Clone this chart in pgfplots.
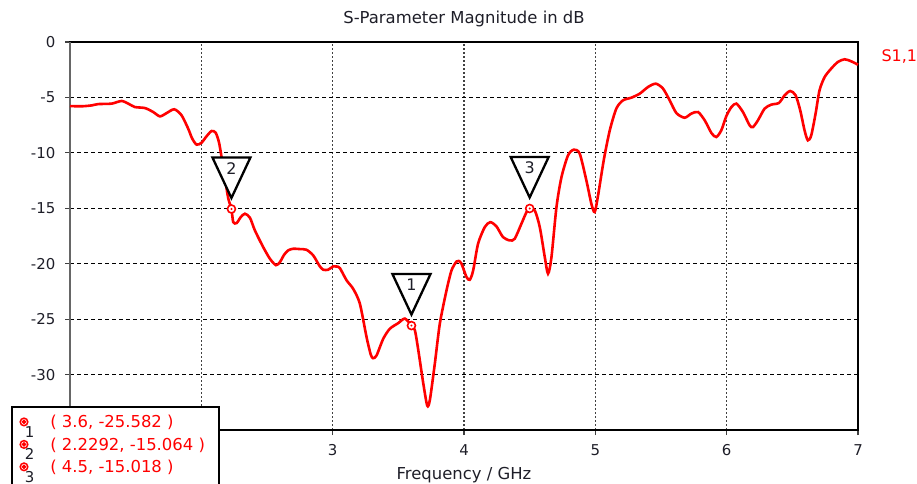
\documentclass[border=0pt]{standalone}
\usepackage{fontspec}
\setmainfont{DejaVu Sans}
\usepackage{pgfplots}
\usepackage{pgfplotstable}
\pgfplotsset{compat=1.18}

% ring marker with a centre dot
\pgfdeclareplotmark{ringdot}{%
  \pgfpathcircle{\pgfpointorigin}{4bp}%
  \pgfusepathqfillstroke
  \begin{pgfscope}%
    \pgfsetfillcolor{red}%
    \pgfpathcircle{\pgfpointorigin}{1.1bp}%
    \pgfusepathqfill
  \end{pgfscope}}

% downward flag triangle, tip just above the marked point
\pgfdeclareplotmark{flag}{%
  \pgfpathmoveto{\pgfpoint{0bp}{11bp}}%
  \pgfpathlineto{\pgfpoint{-19bp}{51.5bp}}%
  \pgfpathlineto{\pgfpoint{19bp}{51.5bp}}%
  \pgfpathclose
  \pgfusepathqfillstroke}

\pgfplotstableread{
f s11
1.000 -5.78
1.089 -5.80
1.165 -5.72
1.215 -5.60
1.317 -5.56
1.393 -5.32
1.450 -5.60
1.495 -5.87
1.571 -5.96
1.634 -6.32
1.685 -6.71
1.736 -6.41
1.794 -6.07
1.850 -6.62
1.900 -7.82
1.930 -8.70
1.964 -9.26
2.002 -9.08
2.040 -8.50
2.078 -8.03
2.109 -8.18
2.134 -9.03
2.154 -10.38
2.180 -12.30
2.205 -14.10
2.2292 -15.064
2.243 -16.25
2.269 -16.33
2.300 -15.80
2.332 -15.49
2.370 -15.85
2.408 -17.00
2.471 -18.50
2.522 -19.55
2.568 -20.13
2.598 -19.86
2.630 -19.20
2.661 -18.80
2.699 -18.65
2.750 -18.68
2.800 -18.74
2.852 -19.25
2.900 -20.20
2.928 -20.54
2.966 -20.54
3.004 -20.24
3.030 -20.25
3.055 -20.40
3.106 -21.50
3.156 -22.26
3.207 -23.60
3.258 -26.62
3.290 -28.20
3.308 -28.52
3.334 -28.28
3.385 -26.77
3.435 -25.87
3.499 -25.36
3.550 -24.95
3.600 -25.582
3.626 -26.00
3.652 -27.80
3.690 -30.80
3.720 -32.80
3.740 -32.30
3.778 -29.00
3.816 -25.40
3.867 -22.40
3.905 -20.60
3.943 -19.80
3.960 -19.75
3.981 -20.00
4.019 -21.20
4.044 -21.45
4.070 -20.60
4.107 -18.20
4.158 -16.70
4.200 -16.25
4.247 -16.63
4.297 -17.60
4.349 -17.90
4.386 -17.75
4.437 -16.40
4.476 -15.34
4.500 -15.018
4.539 -15.20
4.577 -16.70
4.615 -19.40
4.640 -20.90
4.666 -19.40
4.704 -14.90
4.742 -12.20
4.792 -10.23
4.836 -9.71
4.881 -10.07
4.932 -12.50
4.970 -14.60
4.995 -15.34
5.020 -13.90
5.065 -10.60
5.110 -7.97
5.160 -6.00
5.211 -5.26
5.275 -5.02
5.338 -4.66
5.401 -4.06
5.460 -3.76
5.515 -4.20
5.566 -5.26
5.617 -6.41
5.680 -6.83
5.731 -6.46
5.782 -6.32
5.833 -7.07
5.884 -8.21
5.921 -8.57
5.959 -7.97
5.997 -6.70
6.036 -5.87
6.074 -5.56
6.124 -6.32
6.175 -7.52
6.200 -7.67
6.238 -7.07
6.289 -6.01
6.340 -5.65
6.398 -5.50
6.441 -4.81
6.484 -4.42
6.525 -4.81
6.560 -6.16
6.593 -7.97
6.618 -8.87
6.644 -8.42
6.677 -6.46
6.707 -4.36
6.746 -3.16
6.796 -2.40
6.847 -1.80
6.898 -1.56
6.948 -1.74
7.000 -2.05
}\sparam

\pgfplotstableread{
f s11 id
3.6 -25.582 1
2.2292 -15.064 2
4.5 -15.018 3
}\markers

\definecolor{inkgray}{RGB}{30,30,40}

\begin{document}
\begin{tikzpicture}
\useasboundingbox (0,0) rectangle (917bp,484bp);
\begin{axis}[
  at={(70bp,54bp)}, anchor=south west,
  scale only axis, width=788bp, height=388bp,
  xmin=1, xmax=7, ymin=-35, ymax=0,
  xtick={1,2,3,4,5,6,7},
  xticklabels={,,3,4,5,6,7},
  ytick={-35,-30,-25,-20,-15,-10,-5,0},
  yticklabels={,-30,-25,-20,-15,-10,-5,0},
  xtick pos=bottom, ytick pos=left,
  tick align=outside, major tick length=5bp,
  tick style={black!75, line width=1.1bp},
  axis line style={black, line width=1.5bp},
  grid=major,
  x grid style={black!75, line width=1.4bp, dash pattern=on 2bp off 2bp},
  y grid style={black, line width=1bp, dash pattern=on 4bp off 3bp},
  ticklabel style={font=\fontsize{15}{18}\selectfont, text=inkgray},
  xticklabel style={anchor=base, yshift=-20.5bp},
  yticklabel style={anchor=east, inner sep=0pt, xshift=-9.5bp},
  title={S-Parameter Magnitude in dB},
  title style={at={(0.5,1)}, anchor=base, yshift=12.7bp,
    font=\fontsize{16.5}{20}\selectfont, text=inkgray},
  xlabel={Frequency / GHz},
  xlabel style={at={(axis description cs:0.5,0)}, anchor=base, yshift=-49bp,
    font=\fontsize{16.5}{19}\selectfont, text=inkgray},
  clip=false,
  legend cell align=left,
  legend style={at={(axis description cs:-0.0745,0.0611)}, anchor=north west,
    draw=black, line width=2bp, fill=white, text=red,
    font=\fontsize{16.5}{19}\selectfont,
    inner xsep=6.7bp, inner ysep=7.4bp, row sep=-0.8bp, column sep=21.3bp,
    nodes={inner sep=0pt, text height=13bp, text depth=1.5bp}},
]
% left frame line in grey
\draw[black!60, line width=2.4bp] (rel axis cs:0,0) -- (rel axis cs:0,1);

\addplot[red, line width=2.6bp, smooth, tension=0.45, forget plot]
  table[x=f, y=s11] {\sparam};

\addplot[only marks, mark=ringdot, forget plot,
  mark options={draw=red, fill=white, line width=1.6bp}]
  table[x=f, y=s11] {\markers};

\addplot[only marks, mark=flag, forget plot,
  mark options={draw=black, fill=white, line width=2.3bp, line join=miter},
  point meta=explicit symbolic,
  nodes near coords,
  every node near coord/.append style={anchor=center, yshift=40.5bp,
    font=\fontsize{16}{19}\selectfont, text=inkgray}]
  table[x=f, y=s11, meta=id] {\markers};

\node[anchor=base west, text=red, font=\fontsize{16}{19}\selectfont]
  at (rel axis cs:1,1) [xshift=20bp, yshift=-19.7bp] {S1,1};

\addlegendimage{legend image code/.code={%
  \draw[red, line width=1.5bp, fill=white] (0bp,0bp) circle (3.8bp);
  \fill[red] (0bp,0bp) circle (1.1bp);
  \node[overlay, anchor=center, text=inkgray, font=\fontsize{15}{15}\selectfont]
    at (5.6bp,-9.8bp) {1};
  \path[draw=none, fill=none] (-5bp,-16bp) rectangle (5bp,5bp);}}
\addlegendentry{\makebox[162bp][l]{( 3.6, -25.582 )}}
\addlegendimage{legend image code/.code={%
  \draw[red, line width=1.5bp, fill=white] (0bp,0bp) circle (3.8bp);
  \fill[red] (0bp,0bp) circle (1.1bp);
  \node[overlay, anchor=center, text=inkgray, font=\fontsize{15}{15}\selectfont]
    at (5.6bp,-9.8bp) {2};
  \path[draw=none, fill=none] (-5bp,-16bp) rectangle (5bp,5bp);}}
\addlegendentry{\makebox[162bp][l]{( 2.2292, -15.064 )}}
\addlegendimage{legend image code/.code={%
  \draw[red, line width=1.5bp, fill=white] (0bp,0bp) circle (3.8bp);
  \fill[red] (0bp,0bp) circle (1.1bp);
  \node[overlay, anchor=center, text=inkgray, font=\fontsize{15}{15}\selectfont]
    at (5.6bp,-9.8bp) {3};
  \path[draw=none, fill=none] (-5bp,-16bp) rectangle (5bp,5bp);}}
\addlegendentry{\makebox[162bp][l]{( 4.5, -15.018 )}}
\end{axis}
\end{tikzpicture}
\end{document}
